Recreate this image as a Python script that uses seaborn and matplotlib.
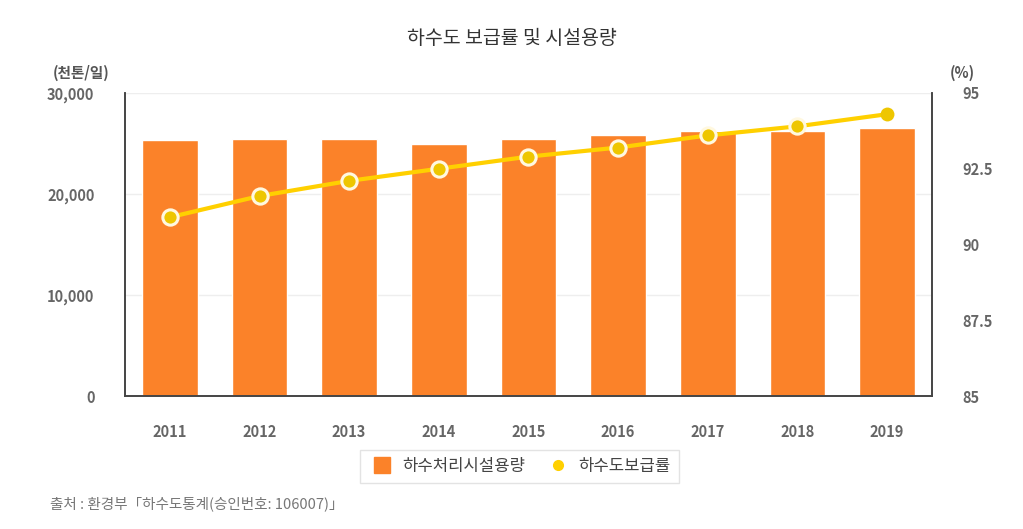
import matplotlib
matplotlib.use("Agg")
import matplotlib.pyplot as plt
import seaborn as sns
import numpy as np
import pandas as pd
from matplotlib.lines import Line2D

years = ["2011", "2012", "2013", "2014", "2015", "2016", "2017", "2018", "2019"]
capacity = [25300, 25400, 25400, 25000, 25400, 25800, 26200, 26200, 26500]
rate = [90.9, 91.6, 92.1, 92.5, 92.9, 93.2, 93.6, 93.9, 94.3]
left_ticks = [0, 10000, 20000, 30000]
left_labels = ["0", "10,000", "20,000", "30,000"]
right_ticks = [85, 87.5, 90, 92.5, 95]
right_labels = ["85", "87.5", "90", "92.5", "95"]

sns.set_theme(style="white")
plt.rcParams['font.family'] = ['Noto Sans CJK KR', 'DejaVu Sans']

BAR = "#FB8229"
LINE = "#FFD000"
MARK = "#EEC600"
TXT = "#666666"

df = pd.DataFrame({"year": years, "cap": capacity, "rate": rate})

fig = plt.figure(figsize=(10.23, 5.29), dpi=100)
ax = fig.add_axes([0.1222, 0.2514, 0.7888, 0.5728])
sns.barplot(data=df, x="year", y="cap", color=BAR, saturation=1, width=0.62, ax=ax)
ax.set_xlim(-0.5, len(years) - 0.5)
ax.set_ylim(0, 30000)
ax.set_yticks(left_ticks)
ax.set_yticklabels(left_labels)
ax.yaxis.grid(True, color="#EEEEEE", linewidth=1)
ax.set_axisbelow(True)
ax.set_xlabel("")
ax.set_ylabel("")
for s in ["left", "bottom", "right"]:
    ax.spines[s].set_color("#444444")
    ax.spines[s].set_linewidth(1.2)
ax.spines["top"].set_visible(False)
ax.tick_params(axis="y", length=0, pad=22, labelsize=10.5, labelcolor=TXT)
ax.tick_params(axis="x", length=0, pad=20, labelsize=10.5, labelcolor=TXT)
for t in ax.get_yticklabels() + ax.get_xticklabels():
    t.set_fontweight("bold")

ax2 = ax.twinx()
xs = np.arange(len(years))
n = len(years)
sns.lineplot(x=xs, y=rate, ax=ax2, color=LINE, linewidth=3, marker="o",
             markersize=11, markerfacecolor=MARK, markeredgecolor="#FFF8E0",
             markeredgewidth=2.2, markevery=list(range(n - 1)), zorder=5)
sns.scatterplot(x=xs[-1:], y=rate[-1:], ax=ax2, color=MARK, s=100,
                edgecolor=MARK, linewidth=0, zorder=6)
ax2.set_ylim(85, 95)
ax2.set_xlim(-0.5, len(years) - 0.5)
ax2.set_yticks(right_ticks)
ax2.set_yticklabels(right_labels)
ax2.tick_params(axis="y", length=0, pad=22, labelsize=10.5, labelcolor=TXT)
for t in ax2.get_yticklabels():
    t.set_fontweight("bold")
for s in ["left", "bottom", "right"]:
    ax2.spines[s].set_color("#444444")
    ax2.spines[s].set_linewidth(1.2)
ax2.spines["top"].set_visible(False)
ax2.set_ylabel("")

fig.text(0.5, 0.928, "하수도 보급률 및 시설용량", ha="center", va="center",
         fontsize=14, color="#333333")
fig.text(0.052, 0.862, "(천톤/일)", ha="left", va="center", fontsize=10.5,
         color="#555555", fontweight="bold")
fig.text(0.928, 0.862, "(%)", ha="left", va="center", fontsize=10.5,
         color="#555555", fontweight="bold")

handles = [
    Line2D([0], [0], marker="s", linestyle="none", markersize=11,
           markerfacecolor=BAR, markeredgecolor=BAR),
    Line2D([0], [0], marker="o", linestyle="none", markersize=7,
           markerfacecolor=LINE, markeredgecolor=LINE),
]
leg = fig.legend(handles, ["하수처리시설용량", "하수도보급률"], loc="center",
                 bbox_to_anchor=(0.508, 0.118), ncol=2, frameon=True,
                 fontsize=12, handletextpad=0.4, columnspacing=1.2,
                 handlelength=1.6, fancybox=False, borderpad=0.5)
leg.get_frame().set_edgecolor("#DDDDDD")
leg.get_frame().set_linewidth(1)
for t in leg.get_texts():
    t.set_color("#444444")

fig.text(0.049, 0.047, "출처 : 환경부「하수도통계(승인번호: 106007)」", ha="left",
         va="center", fontsize=10.5, color="#777777")

fig.savefig("out.png", dpi=100)
